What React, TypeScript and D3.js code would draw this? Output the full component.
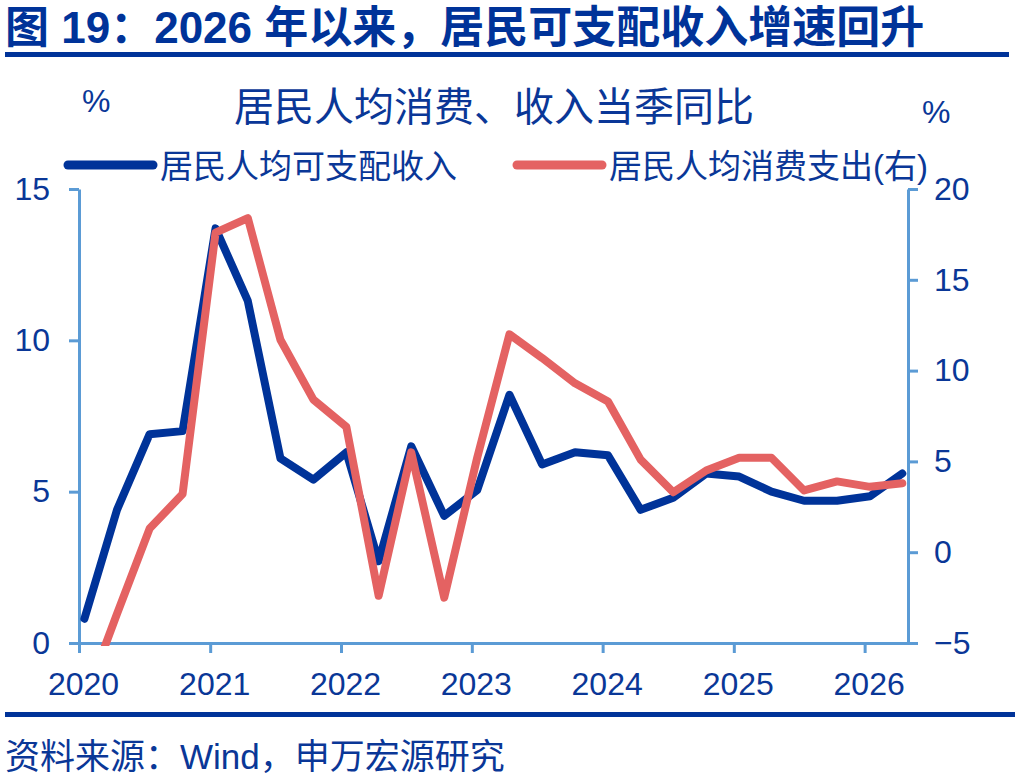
import { useEffect, useRef } from 'react';
import * as d3 from 'd3';

// 当季同比，%
const quarters = [
  '2020Q1', '2020Q2', '2020Q3', '2020Q4',
  '2021Q1', '2021Q2', '2021Q3', '2021Q4',
  '2022Q1', '2022Q2', '2022Q3', '2022Q4',
  '2023Q1', '2023Q2', '2023Q3', '2023Q4',
  '2024Q1', '2024Q2', '2024Q3', '2024Q4',
  '2025Q1', '2025Q2', '2025Q3', '2025Q4',
  '2026Q1', '2026Q2',
];
const income = [
  0.8, 4.4, 6.9, 7.0,
  13.7, 11.3, 6.1, 5.4,
  6.3, 2.7, 6.5, 4.2,
  5.05, 8.2, 5.9, 6.3,
  6.2, 4.4, 4.8, 5.6,
  5.5, 5.0, 4.7, 4.7,
  4.85, 5.6,
];
const consumption = [
  -8.2, -3.4, 1.3, 3.2,
  17.6, 18.4, 11.7, 8.4,
  6.9, -2.4, 5.5, -2.5,
  5.2, 12.0, 10.7, 9.3,
  8.3, 5.1, 3.3, 4.5,
  5.2, 5.2, 3.4, 3.9,
  3.6, 3.8,
];
const leftTicks = [0, 5, 10, 15];
const rightTicks = [-5, 0, 5, 10, 15, 20];
const yearTicks = [2020, 2021, 2022, 2023, 2024, 2025, 2026];

const title = '图 19：2026 年以来，居民可支配收入增速回升';
const subtitle = '居民人均消费、收入当季同比';
const incomeName = '居民人均可支配收入';
const consName = '居民人均消费支出(右)';
const source = '资料来源：Wind，申万宏源研究';

const NAVY = '#003399';
const RED = '#E46262';
const AXIS = '#5B9BD5';
const TEXT = '#0A3797';
const FONT = '"Liberation Sans", Arial, "Noto Sans CJK SC", sans-serif';

// 季度数据对应每季首月中旬
const toDate = (q: string) => new Date(+q.slice(0, 4), (+q.slice(5) - 1) * 3, 16);

export default function App() {
  const svgRef = useRef<SVGSVGElement>(null);

  useEffect(() => {
    if (!svgRef.current) return;
    const svg = d3.select(svgRef.current);
    svg.selectAll('*').remove();

    const left = 79, right = 908, top = 189, bottom = 643;

    const x = d3.scaleTime()
      .domain([new Date(2020, 0, 1), new Date(2026, 4, 2)])
      .range([left, right]);
    const yL = d3.scaleLinear().domain([0, 15]).range([bottom, top]);
    const yR = d3.scaleLinear().domain([-5, 20]).range([bottom, top]);

    svg.append('rect').attr('width', 1028).attr('height', 780).attr('fill', '#fff');

    // title
    svg.append('text')
      .attr('x', 5).attr('y', 43)
      .attr('font-family', FONT).attr('font-size', 44).attr('font-weight', 'bold')
      .attr('fill', NAVY)
      .text(title);
    svg.append('rect').attr('x', 5).attr('y', 52).attr('width', 1004).attr('height', 5).attr('fill', NAVY);

    svg.append('text')
      .attr('x', 494).attr('y', 121).attr('text-anchor', 'middle')
      .attr('font-family', FONT).attr('font-size', 40).attr('fill', TEXT)
      .text(subtitle);

    svg.append('text').attr('x', 82).attr('y', 112)
      .attr('font-family', FONT).attr('font-size', 32).attr('fill', TEXT).text('%');
    svg.append('text').attr('x', 922).attr('y', 123)
      .attr('font-family', FONT).attr('font-size', 32).attr('fill', TEXT).text('%');

    // legend
    const legend = [
      { name: incomeName, color: NAVY, x0: 68 },
      { name: consName, color: RED, x0: 517 },
    ];
    legend.forEach(l => {
      svg.append('line')
        .attr('x1', l.x0).attr('x2', l.x0 + 85).attr('y1', 165).attr('y2', 165)
        .attr('stroke', l.color).attr('stroke-width', 9).attr('stroke-linecap', 'round');
      svg.append('text')
        .attr('x', l.x0 + 92).attr('y', 178)
        .attr('font-family', FONT).attr('font-size', 33).attr('fill', TEXT)
        .text(l.name);
    });

    const styleAxis = (g: d3.Selection<SVGGElement, unknown, null, undefined>) => {
      g.select('.domain').attr('stroke', AXIS).attr('stroke-width', 3);
      g.selectAll('.tick line').attr('stroke', AXIS).attr('stroke-width', 3);
      g.selectAll('.tick text')
        .attr('fill', TEXT).attr('font-size', 32).attr('font-family', FONT);
    };

    const gL = svg.append('g').attr('transform', `translate(${left},0)`)
      .call(d3.axisLeft(yL).tickValues(leftTicks).tickSize(10).tickSizeOuter(0).tickPadding(19))
      .attr('font-family', FONT);
    styleAxis(gL);

    const gR = svg.append('g').attr('transform', `translate(${right},0)`)
      .call(d3.axisRight(yR).tickValues(rightTicks).tickSize(10).tickSizeOuter(0).tickPadding(16))
      .attr('font-family', FONT);
    styleAxis(gR);

    const gX = svg.append('g').attr('transform', `translate(0,${bottom})`)
      .call(d3.axisBottom(x)
        .tickValues(yearTicks.map(y => new Date(y, 0, 1)))
        .tickFormat(d3.timeFormat('%Y') as any)
        .tickSize(10).tickSizeOuter(0).tickPadding(19))
      .attr('font-family', FONT);
    styleAxis(gX);
    gX.selectAll('.tick text').attr('dx', 4);

    // lines
    svg.append('clipPath').attr('id', 'plot-clip')
      .append('rect').attr('x', left - 10).attr('y', 140)
      .attr('width', right - left + 20).attr('height', bottom + 3 - 140);

    const dates = quarters.map(toDate);
    const lineL = d3.line<number>().x((_, i) => x(dates[i])).y(d => yL(d));
    const lineR = d3.line<number>().x((_, i) => x(dates[i])).y(d => yR(d));

    const plot = svg.append('g').attr('clip-path', 'url(#plot-clip)');
    plot.append('path').datum(income)
      .attr('d', lineL).attr('fill', 'none').attr('stroke', NAVY)
      .attr('stroke-width', 8).attr('stroke-linejoin', 'round').attr('stroke-linecap', 'round');
    plot.append('path').datum(consumption)
      .attr('d', lineR).attr('fill', 'none').attr('stroke', RED)
      .attr('stroke-width', 8).attr('stroke-linejoin', 'round').attr('stroke-linecap', 'round');

    // footer
    svg.append('rect').attr('x', 5).attr('y', 712).attr('width', 1010).attr('height', 5).attr('fill', NAVY);
    svg.append('text')
      .attr('x', 5).attr('y', 769)
      .attr('font-family', FONT).attr('font-size', 35).attr('fill', TEXT)
      .text(source);
  }, []);

  return (
    <svg
      ref={svgRef}
      width={1028}
      height={780}
      style={{ position: 'absolute', left: 0, top: 0 }}
    />
  );
}
